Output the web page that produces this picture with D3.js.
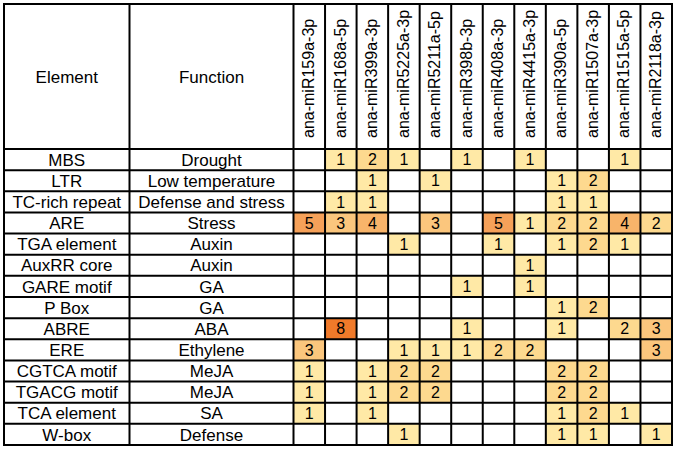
<!DOCTYPE html>
<html lang="en">
<head>
    <meta charset="UTF-8">
    <title>Cis-elements in miRNA promoters</title>
    <script src="https://d3js.org/d3.v7.min.js"></script>
    <style>
        body { margin: 0; background: white; font-family: Arial, "Liberation Sans", sans-serif; }
        svg { display: block; }
    </style>
</head>
<body>
    <script>
        // Table content
        const mirnas = ["ana-miR159a-3p", "ana-miR168a-5p", "ana-miR399a-3p", "ana-miR5225a-3p",
                        "ana-miR5211a-5p", "ana-miR398b-3p", "ana-miR408a-3p", "ana-miR4415a-3p",
                        "ana-miR390a-5p", "ana-miR1507a-3p", "ana-miR1515a-5p", "ana-miR2118a-3p"];

        const elements = ["MBS", "LTR", "TC-rich repeat", "ARE", "TGA element", "AuxRR core",
                          "GARE motif", "P Box", "ABRE", "ERE", "CGTCA motif", "TGACG motif",
                          "TCA element", "W-box"];

        const functions = ["Drought", "Low temperature", "Defense and stress", "Stress", "Auxin", "Auxin",
                           "GA", "GA", "ABA", "Ethylene", "MeJA", "MeJA", "SA", "Defense"];

        // counts per element (row) and miRNA (column), 0 = empty cell
        const counts = [
            [0, 1, 2, 1, 0, 1, 0, 1, 0, 0, 1, 0],
            [0, 0, 1, 0, 1, 0, 0, 0, 1, 2, 0, 0],
            [0, 1, 1, 0, 0, 0, 0, 0, 1, 1, 0, 0],
            [5, 3, 4, 0, 3, 0, 5, 1, 2, 2, 4, 2],
            [0, 0, 0, 1, 0, 0, 1, 0, 1, 2, 1, 0],
            [0, 0, 0, 0, 0, 0, 0, 1, 0, 0, 0, 0],
            [0, 0, 0, 0, 0, 1, 0, 1, 0, 0, 0, 0],
            [0, 0, 0, 0, 0, 0, 0, 0, 1, 2, 0, 0],
            [0, 8, 0, 0, 0, 1, 0, 0, 1, 0, 2, 3],
            [3, 0, 0, 1, 1, 1, 2, 2, 0, 0, 0, 3],
            [1, 0, 1, 2, 2, 0, 0, 0, 2, 2, 0, 0],
            [1, 0, 1, 2, 2, 0, 0, 0, 2, 2, 0, 0],
            [1, 0, 1, 0, 0, 0, 0, 0, 1, 2, 1, 0],
            [0, 0, 0, 1, 0, 0, 0, 0, 1, 1, 0, 1]
        ];

        const W = 678, H = 449;
        const tLeft = 4, elemRight = 129.5, funcRight = 293.5, tRight = 672;
        const tTop = 4, headBottom = 149, tBottom = 445;

        const svg = d3.select("body").append("svg")
            .attr("width", W)
            .attr("height", H);

        const x = d3.scaleBand().domain(mirnas).range([funcRight, tRight]);
        const y = d3.scaleBand().domain(elements).range([headBottom, tBottom]);

        const color = d3.scaleLinear()
            .domain([1, 2, 3, 4, 5, 8])
            .range(["#ffe9a6", "#fdd98f", "#fbc67d", "#f8b46a", "#f6a159", "#f07a2a"]);

        const cells = [];
        counts.forEach((row, i) => row.forEach((v, j) => {
            cells.push({ el: elements[i], mi: mirnas[j], v: v });
        }));

        // filled cells
        svg.append("g").selectAll("rect")
            .data(cells.filter(d => d.v > 0))
            .join("rect")
            .attr("x", d => x(d.mi))
            .attr("y", d => y(d.el))
            .attr("width", x.bandwidth())
            .attr("height", y.bandwidth())
            .attr("fill", d => color(d.v));

        // numbers
        svg.append("g").selectAll("text")
            .data(cells.filter(d => d.v > 0))
            .join("text")
            .attr("x", d => x(d.mi) + x.bandwidth() / 2)
            .attr("y", d => y(d.el) + y.bandwidth() / 2)
            .attr("dy", "0.36em")
            .attr("text-anchor", "middle")
            .style("font-size", "16px")
            .text(d => d.v);

        // element and function labels
        const rowText = svg.append("g")
            .attr("text-anchor", "middle")
            .style("font-size", "17px");

        rowText.selectAll(".el")
            .data(elements)
            .join("text")
            .attr("class", "el")
            .attr("x", (tLeft + elemRight) / 2)
            .attr("y", d => y(d) + y.bandwidth() / 2)
            .attr("dy", "0.36em")
            .text(d => d);

        rowText.selectAll(".fn")
            .data(functions)
            .join("text")
            .attr("class", "fn")
            .attr("x", (elemRight + funcRight) / 2)
            .attr("y", (d, i) => y(elements[i]) + y.bandwidth() / 2)
            .attr("dy", "0.36em")
            .text(d => d);

        // header
        rowText.append("text")
            .attr("x", (tLeft + elemRight) / 2)
            .attr("y", (tTop + headBottom) / 2)
            .attr("dy", "0.36em")
            .text("Element");

        rowText.append("text")
            .attr("x", (elemRight + funcRight) / 2)
            .attr("y", (tTop + headBottom) / 2)
            .attr("dy", "0.36em")
            .text("Function");

        svg.append("g").selectAll("text")
            .data(mirnas)
            .join("text")
            .attr("transform", d => `translate(${x(d) + x.bandwidth() / 2 - 1},${headBottom - 11}) rotate(-90)`)
            .attr("dy", "0.36em")
            .style("font-size", "16px")
            .text(d => d);

        // grid lines
        const grid = svg.append("g")
            .attr("stroke", "#000")
            .attr("stroke-width", 2)
            .attr("fill", "none");

        const vLines = [tLeft, elemRight, funcRight].concat(mirnas.slice(1).map(m => x(m)), [tRight]);
        grid.selectAll(".v")
            .data(vLines)
            .join("line")
            .attr("class", "v")
            .attr("x1", d => d).attr("x2", d => d)
            .attr("y1", tTop).attr("y2", tBottom);

        const hLines = [tTop, headBottom].concat(elements.slice(1).map(e => y(e)), [tBottom]);
        grid.selectAll(".h")
            .data(hLines)
            .join("line")
            .attr("class", "h")
            .attr("x1", tLeft - 1).attr("x2", tRight + 1)
            .attr("y1", d => d).attr("y2", d => d);
    </script>
</body>
</html>
